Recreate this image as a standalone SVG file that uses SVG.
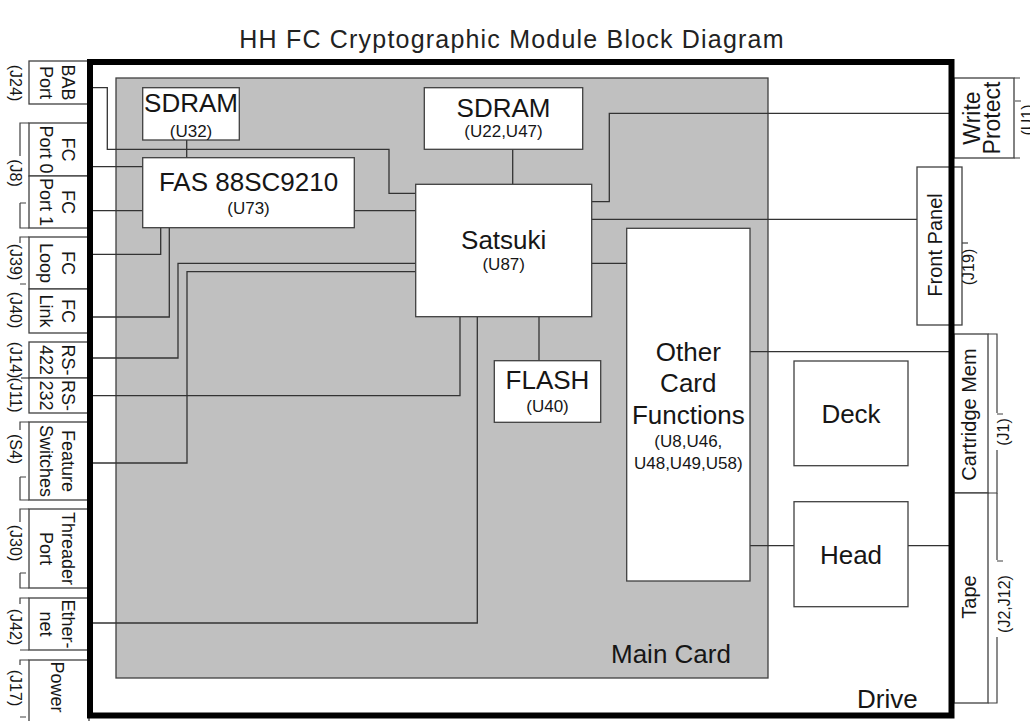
<svg xmlns="http://www.w3.org/2000/svg" width="1030" height="721" viewBox="0 0 1030 721">
  <style>
    .box { fill: #ffffff; stroke: #404040; stroke-width: 1.3; }
    .card { fill: #c0c0c0; stroke: #404040; stroke-width: 1.3; }
    .wire { fill: none; stroke: #333333; stroke-width: 1.3; }
    .brk { fill: none; stroke: #404040; stroke-width: 1.2; }
    .drive { fill: none; stroke: #000000; stroke-width: 6; }
    text { font-family: "Liberation Sans", Arial, sans-serif; fill: #161616; text-anchor: middle; }
    .title { font-size: 25px; letter-spacing: 1.2px; fill: #222222; }
    .big { font-size: 26px; }
    .small { font-size: 17px; }
    .lbl { font-size: 18px; }
    .side { font-size: 20px; }
    .ref { font-size: 16px; }
  </style>

  <text class="title" x="512" y="48">HH FC Cryptographic Module Block Diagram</text>

  <!-- main card background -->
  <g id="main-card">
    <rect class="card" x="116" y="78" width="652" height="600"/>
    <text class="big" x="611" y="663" style="text-anchor:start">Main Card</text>
  </g>

  <!-- connectors -->
  <g id="connectors">
    <path class="wire" d="M88,87.7 H107.3 V149.3 H389 V193.3 H415.7"/>
    <path class="wire" d="M88,166.7 H142.7"/>
    <path class="wire" d="M88,210.7 H142.7"/>
    <path class="wire" d="M354.3,210.7 H415.7"/>
    <path class="wire" d="M88,254.3 H160.7 V227.7"/>
    <path class="wire" d="M88,317 H169.3 V227.7"/>
    <path class="wire" d="M88,358 H178 V263.3 H415.7"/>
    <path class="wire" d="M88,463 H187 V271.7 H415.7"/>
    <path class="wire" d="M88,395.7 H460 V316.7"/>
    <path class="wire" d="M88,623 H477.3 V316.7"/>
    <path class="wire" d="M186.7,140 V157.7"/>
    <path class="wire" d="M512.7,149.3 V184.3"/>
    <path class="wire" d="M539,316.7 V360.7"/>
    <path class="wire" d="M591.7,201.7 H609.3 V113.3 H951"/>
    <path class="wire" d="M591.7,219.3 H917"/>
    <path class="wire" d="M591.7,263.3 H626.7"/>
    <path class="wire" d="M750,351.7 H954"/>
    <path class="wire" d="M750,545.7 H794"/>
    <path class="wire" d="M908,545.7 H954"/>
  </g>

  <!-- main card components -->
  <g id="sdram-u32">
    <rect class="box" x="142.7" y="87.7" width="96.6" height="52.3"/>
    <text class="big" x="191" y="112">SDRAM</text>
    <text class="small" x="191" y="136.5">(U32)</text>
  </g>
  <g id="fas">
    <rect class="box" x="142.7" y="157.7" width="211.6" height="70"/>
    <text class="big" x="248.5" y="191">FAS 88SC9210</text>
    <text class="small" x="248.5" y="213.5">(U73)</text>
  </g>
  <g id="sdram-u22">
    <rect class="box" x="424.3" y="87.7" width="158.4" height="61.6"/>
    <text class="big" x="503.5" y="116.7">SDRAM</text>
    <text class="small" x="503.5" y="136.5">(U22,U47)</text>
  </g>
  <g id="satsuki">
    <rect class="box" x="415.7" y="184.3" width="176" height="132.4"/>
    <text class="big" x="503.7" y="249">Satsuki</text>
    <text class="small" x="503.7" y="270">(U87)</text>
  </g>
  <g id="flash">
    <rect class="box" x="494.3" y="360.7" width="106.4" height="61.6"/>
    <text class="big" x="547.5" y="389.3">FLASH</text>
    <text class="small" x="547.5" y="411.5">(U40)</text>
  </g>
  <g id="other-card">
    <rect class="box" x="626.7" y="228.3" width="123.3" height="352.7"/>
    <text class="big" x="688.3" y="361">Other</text>
    <text class="big" x="688.3" y="392.3">Card</text>
    <text class="big" x="688.3" y="424">Functions</text>
    <text class="small" x="688.3" y="447">(U8,U46,</text>
    <text class="small" x="688.3" y="469">U48,U49,U58)</text>
  </g>

  <!-- drive components -->
  <g id="deck">
    <rect class="box" x="794" y="361" width="114" height="104.7"/>
    <text class="big" x="851" y="423">Deck</text>
  </g>
  <g id="head">
    <rect class="box" x="794" y="501.7" width="114" height="105"/>
    <text class="big" x="851" y="563.5">Head</text>
  </g>

  <!-- left side connectors (rotated labels read top to bottom) -->
  <g id="bab-port">
    <rect class="box" x="29" y="61" width="60" height="43"/>
    <text class="lbl" transform="translate(58,82.5) rotate(90)" y="-4">BAB</text>
    <text class="lbl" transform="translate(58,82.5) rotate(90)" y="18">Port</text>
    <text class="ref" transform="translate(9.5,83) rotate(90)">(J24)</text>
  </g>
  <g id="fc-port0">
    <rect class="box" x="29" y="123" width="60" height="53"/>
    <text class="lbl" transform="translate(58,149.5) rotate(90)" y="-4">FC</text>
    <text class="lbl" transform="translate(58,149.5) rotate(90)" y="18">Port 0</text>
  </g>
  <g id="fc-port1">
    <rect class="box" x="29" y="176" width="60" height="52"/>
    <text class="lbl" transform="translate(58,202) rotate(90)" y="-4">FC</text>
    <text class="lbl" transform="translate(58,202) rotate(90)" y="18">Port 1</text>
    <path class="brk" d="M29,123 H20 V156 M20,203 H26 M20,203 V228 H29"/>
    <text class="ref" transform="translate(9.5,173) rotate(90)">(J8)</text>
  </g>
  <g id="fc-loop">
    <rect class="box" x="29" y="237" width="60" height="52"/>
    <text class="lbl" transform="translate(58,263) rotate(90)" y="-4">FC</text>
    <text class="lbl" transform="translate(58,263) rotate(90)" y="18">Loop</text>
    <path class="brk" d="M29,237 H20 V243 M20,284 H26"/>
    <text class="ref" transform="translate(9.5,262) rotate(90)">(J39)</text>
  </g>
  <g id="fc-link">
    <rect class="box" x="29" y="289" width="60" height="44"/>
    <text class="lbl" transform="translate(58,311) rotate(90)" y="-4">FC</text>
    <text class="lbl" transform="translate(58,311) rotate(90)" y="18">Link</text>
    <text class="ref" transform="translate(9.5,310) rotate(90)">(J40)</text>
  </g>
  <g id="rs-422">
    <rect class="box" x="29" y="342" width="60" height="36"/>
    <text class="lbl" transform="translate(58,360) rotate(90)" y="-4">RS-</text>
    <text class="lbl" transform="translate(58,360) rotate(90)" y="18">422</text>
    <text class="ref" transform="translate(9.5,360) rotate(90)">(J14)</text>
  </g>
  <g id="rs-232">
    <rect class="box" x="29" y="378" width="60" height="35"/>
    <text class="lbl" transform="translate(58,395.5) rotate(90)" y="-4">RS-</text>
    <text class="lbl" transform="translate(58,395.5) rotate(90)" y="18">232</text>
    <path class="brk" d="M21,378 H29"/>
    <text class="ref" transform="translate(9.5,395) rotate(90)">(J11)</text>
  </g>
  <g id="feature-switches">
    <rect class="box" x="29" y="422" width="60" height="78"/>
    <text class="lbl" transform="translate(58,461) rotate(90)" y="-4">Feature</text>
    <text class="lbl" transform="translate(58,461) rotate(90)" y="18">Switches</text>
    <path class="brk" d="M29,422 H20 V430 M20,477 H26 M20,477 V500 H29"/>
    <text class="ref" transform="translate(9.5,449) rotate(90)">(S4)</text>
  </g>
  <g id="threader-port">
    <rect class="box" x="29" y="509" width="60" height="79"/>
    <text class="lbl" transform="translate(58,548.5) rotate(90)" y="-4">Threader</text>
    <text class="lbl" transform="translate(58,548.5) rotate(90)" y="18">Port</text>
    <path class="brk" d="M29,509 H20 V522 M20,573 H26 M20,573 V588 H29"/>
    <text class="ref" transform="translate(9.5,543) rotate(90)">(J30)</text>
  </g>
  <g id="ethernet">
    <rect class="box" x="29" y="598" width="60" height="52"/>
    <text class="lbl" transform="translate(58,624) rotate(90)" y="-4">Ether-</text>
    <text class="lbl" transform="translate(58,624) rotate(90)" y="18">net</text>
    <path class="brk" d="M29,598 H20 V604 M20,650 H29"/>
    <text class="ref" transform="translate(9.5,627) rotate(90)">(J42)</text>
  </g>
  <g id="power">
    <rect class="box" x="29" y="660" width="60" height="62"/>
    <text class="lbl" transform="translate(58,687) rotate(90)" y="7.3">Power</text>
    <path class="brk" d="M29,660 H20 V665 M20,717 H26"/>
    <text class="ref" transform="translate(9.5,688) rotate(90)">(J17)</text>
  </g>

  <!-- right side connectors (rotated labels read bottom to top) -->
  <g id="write-protect">
    <rect class="box" x="954" y="78" width="60" height="80"/>
    <text class="big" style="font-size:23px" transform="translate(984,118) rotate(-90)" y="-4">Write</text>
    <text class="big" style="font-size:23px" transform="translate(984,118) rotate(-90)" y="16">Protect</text>
    <path class="brk" d="M1014,78 H1020 M1014,158 H1020 M1015,101 H1021"/>
    <text class="ref" transform="translate(1033,120) rotate(-90)">(U1)</text>
  </g>
  <g id="front-panel">
    <rect class="box" x="917" y="167" width="45" height="158"/>
    <text class="side" transform="translate(939.5,245) rotate(-90)" y="2.2">Front Panel</text>
    <path class="brk" d="M962,243 H968"/>
    <text class="ref" transform="translate(974,267) rotate(-90)">(J19)</text>
  </g>
  <g id="cartridge-mem">
    <rect class="box" x="954" y="334" width="34" height="159"/>
    <text class="side" transform="translate(971,414.5) rotate(-90)" y="5">Cartridge Mem</text>
    <path class="brk" d="M988,334 H997 V413 M997,414 H1003 M997,450 V493 H988"/>
    <text class="ref" transform="translate(1009,432) rotate(-90)">(J1)</text>
  </g>
  <g id="tape">
    <rect class="box" x="954" y="493" width="34" height="210"/>
    <text class="side" transform="translate(971,597) rotate(-90)" y="5">Tape</text>
    <path class="brk" d="M997,493 V560 M997,561 H1003 M997,637 V703 H988"/>
    <text class="ref" transform="translate(1010,604) rotate(-90)">(J2,J12)</text>
  </g>

  <!-- drive enclosure -->
  <g id="drive">
    <rect class="drive" x="90" y="62" width="861.5" height="653.5"/>
    <text class="big" x="857" y="708" style="text-anchor:start">Drive</text>
  </g>
</svg>
